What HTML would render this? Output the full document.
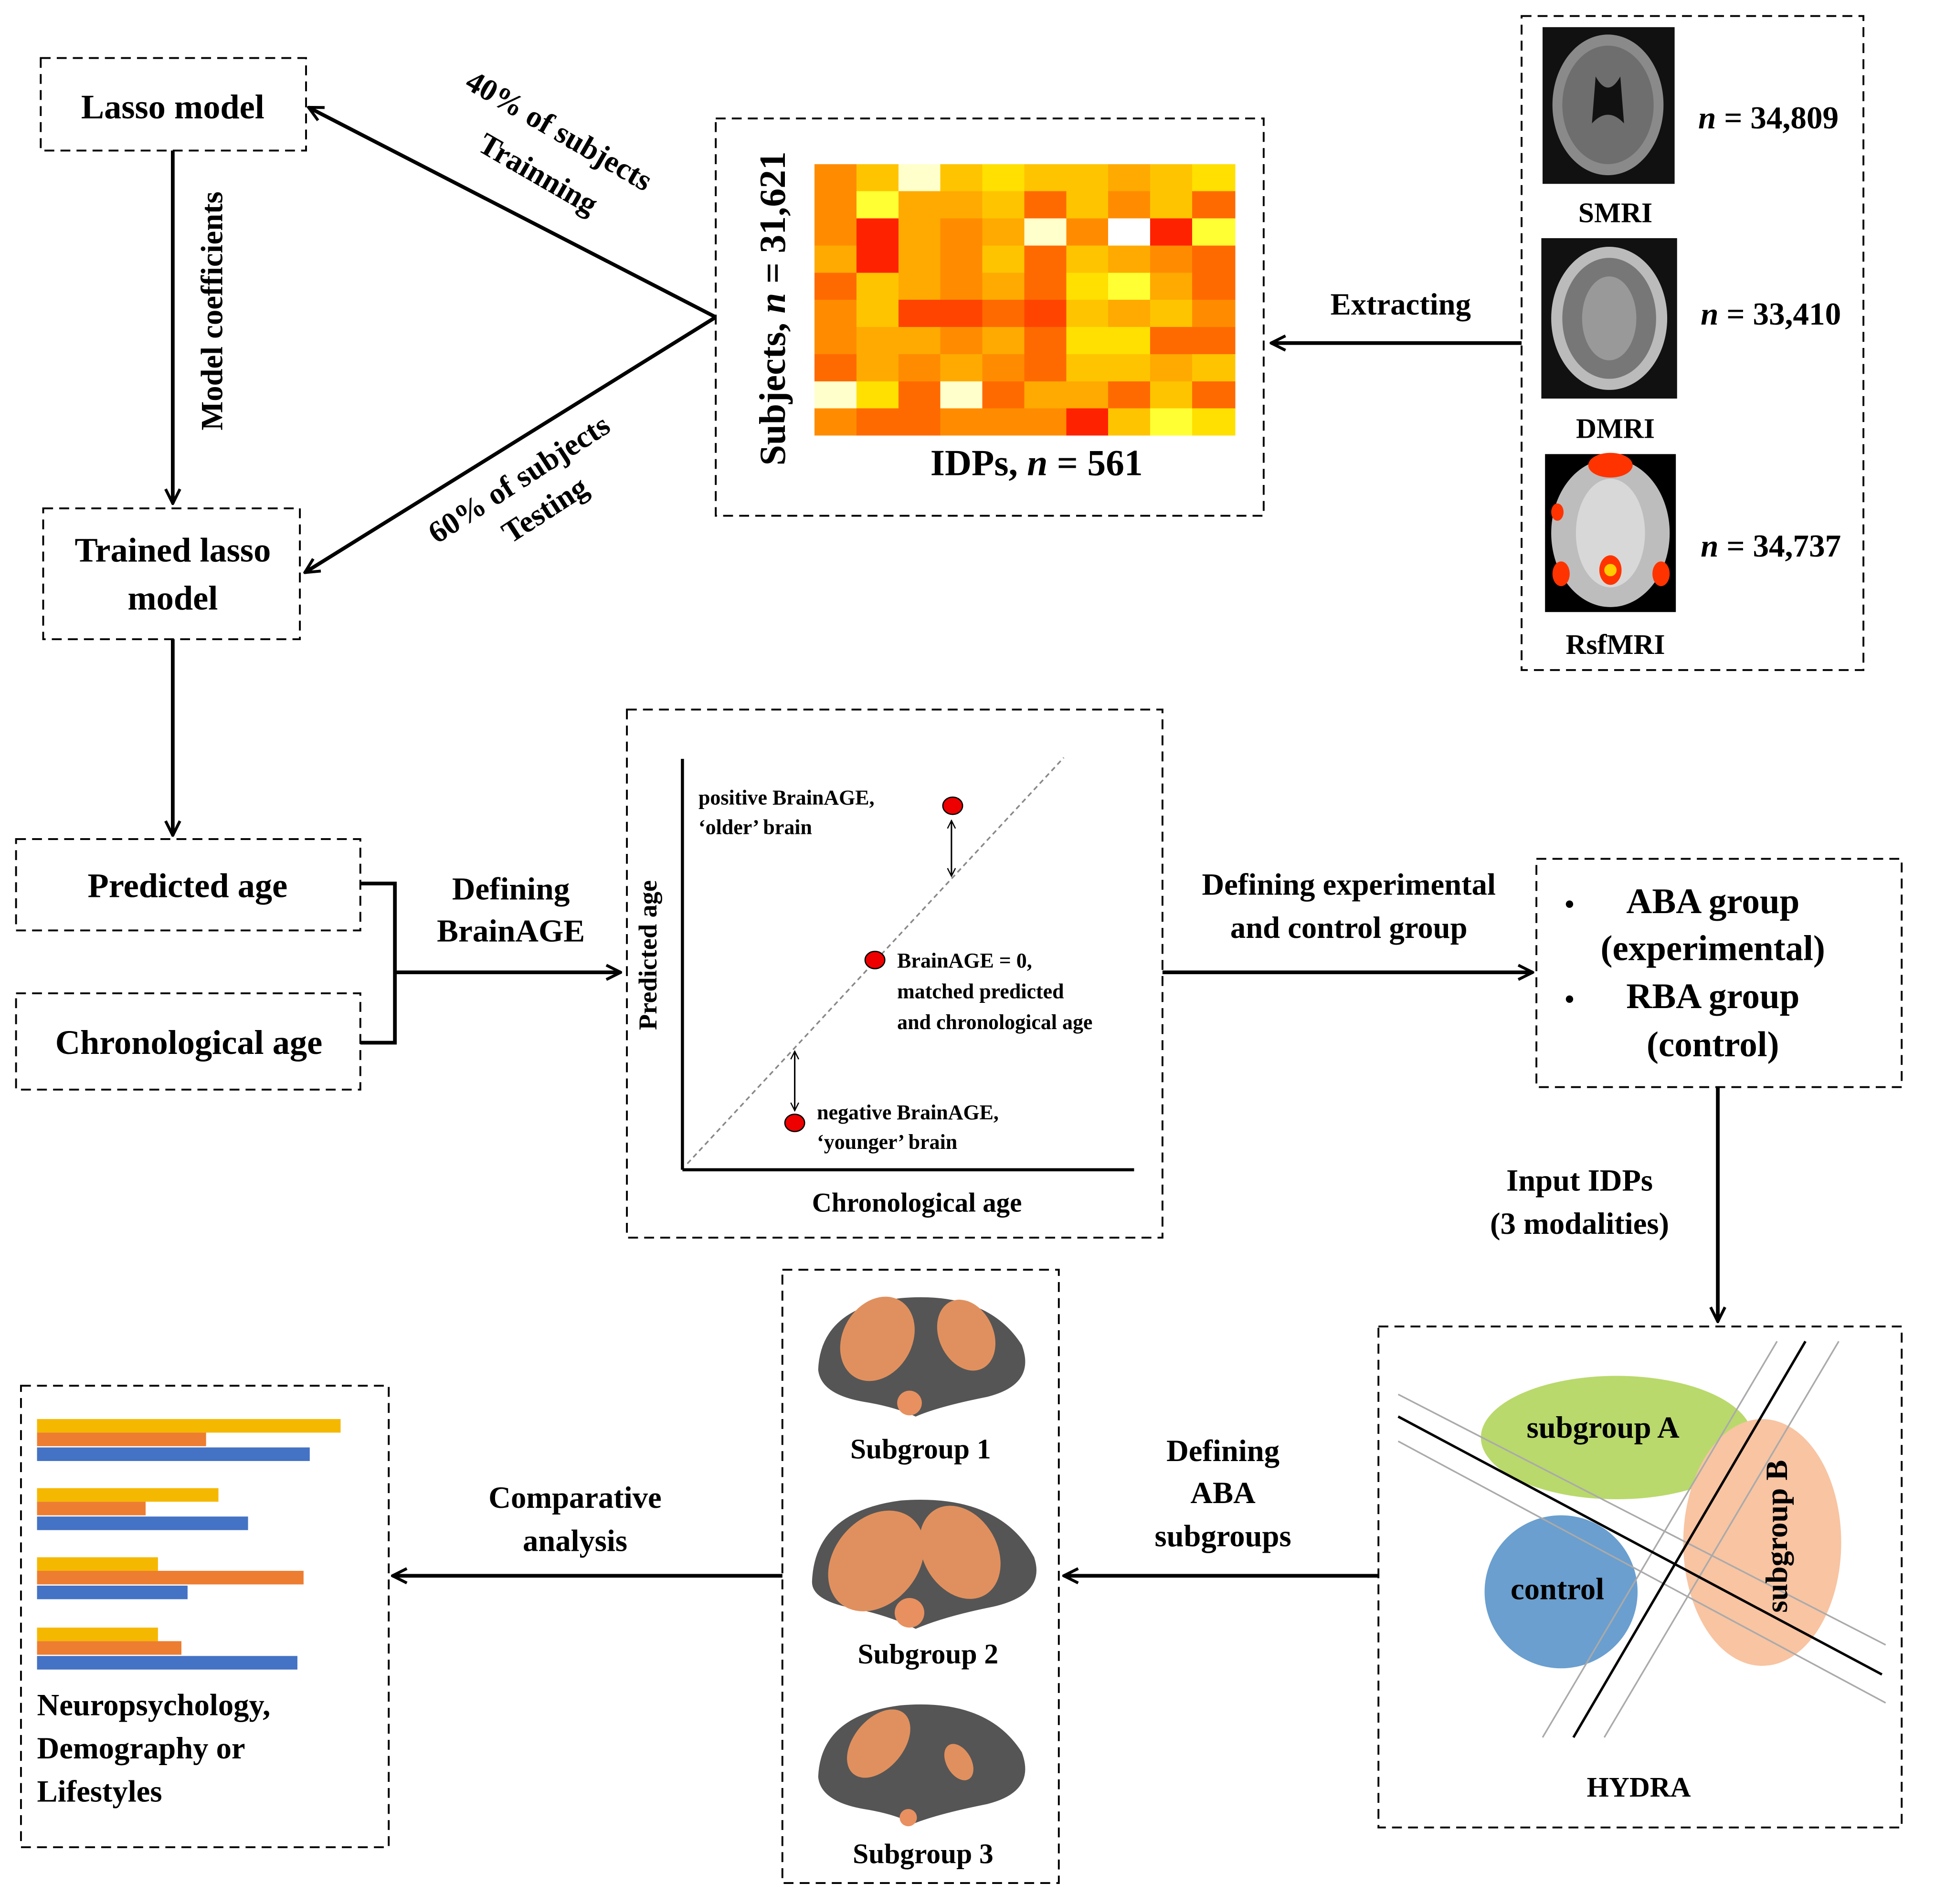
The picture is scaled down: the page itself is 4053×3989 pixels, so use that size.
<!DOCTYPE html>
<html><head><meta charset="utf-8"><style>html,body{margin:0;padding:0;background:#fff}svg{display:block}</style></head>
<body>
<svg xmlns="http://www.w3.org/2000/svg" width="4053" height="3989" viewBox="0 0 1568 1543" preserveAspectRatio="none" font-family="Liberation Serif, serif" font-weight="bold">
<defs>
<marker id="ah" viewBox="0 0 12 12" refX="11" refY="6" markerWidth="14" markerHeight="14" markerUnits="userSpaceOnUse" orient="auto"><path d="M1,1 L11,6 L1,11" fill="none" stroke="#000" stroke-width="2"/></marker>
<marker id="sa" viewBox="0 0 10 10" refX="9" refY="5" markerWidth="8" markerHeight="8" markerUnits="userSpaceOnUse" orient="auto-start-reverse"><path d="M1,1 L9,5 L1,9" fill="none" stroke="#000" stroke-width="1.2"/></marker>
</defs>
<rect width="1568" height="1543" fill="#fff"/>
<g fill="none" stroke="#000" stroke-width="1.5" stroke-dasharray="8,5">
<rect x="33" y="47" width="215" height="75"/>
<rect x="35" y="412" width="208" height="106"/>
<rect x="13" y="680" width="279" height="74"/>
<rect x="13" y="805" width="279" height="78"/>
<rect x="508" y="575" width="434" height="428"/>
<rect x="1245" y="696" width="296" height="185"/>
<rect x="1117" y="1075" width="424" height="406"/>
<rect x="634" y="1029" width="224" height="497"/>
<rect x="17" y="1123" width="298" height="374"/>
<rect x="580" y="96" width="444" height="322"/>
<rect x="1233" y="13" width="277" height="530"/>
</g>
<g stroke="#000" stroke-width="3" fill="none">
<line x1="140" y1="122" x2="140" y2="408" marker-end="url(#ah)"/>
<line x1="140" y1="518" x2="140" y2="677" marker-end="url(#ah)"/>
<polyline points="292,716 320,716 320,845 292,845"/>
<line x1="320" y1="788" x2="503" y2="788" marker-end="url(#ah)"/>
<line x1="942" y1="788" x2="1242" y2="788" marker-end="url(#ah)"/>
<line x1="1392" y1="881" x2="1392" y2="1071" marker-end="url(#ah)"/>
<line x1="1117" y1="1277" x2="862" y2="1277" marker-end="url(#ah)"/>
<line x1="634" y1="1277" x2="318" y2="1277" marker-end="url(#ah)"/>
<line x1="580" y1="257" x2="250" y2="87" marker-end="url(#ah)"/>
<line x1="580" y1="257" x2="247" y2="464" marker-end="url(#ah)"/>
<line x1="1233" y1="278" x2="1030" y2="278" marker-end="url(#ah)"/>
</g>
<g font-size="28" text-anchor="middle">
<text x="140" y="96">Lasso model</text>
<text x="140" y="455">Trained lasso</text>
<text x="140" y="494">model</text>
<text x="152" y="727">Predicted age</text>
<text x="153" y="854">Chronological age</text>
<text font-size="25" x="190" y="262" transform="rotate(-90 180 262)">Model coefficients</text>
<text font-size="26" x="414" y="729">Defining</text>
<text font-size="26" x="414" y="763">BrainAGE</text>
<text font-size="25" x="1093" y="725">Defining experimental</text>
<text font-size="25" x="1093" y="760">and control group</text>
<text font-size="25" x="1280" y="965">Input IDPs</text>
<text font-size="25" x="1280" y="1000">(3 modalities)</text>
<text font-size="25" x="991" y="1184">Defining</text>
<text font-size="25" x="991" y="1218">ABA</text>
<text font-size="25" x="991" y="1253">subgroups</text>
<text font-size="25" x="466" y="1222">Comparative</text>
<text font-size="25" x="466" y="1257">analysis</text>
<text font-size="25" x="1135" y="255">Extracting</text>
<text font-size="23" x="1328" y="1456">HYDRA</text>
<text font-size="23" x="746" y="1182">Subgroup 1</text>
<text font-size="23" x="752" y="1348">Subgroup 2</text>
<text font-size="23" x="748" y="1510">Subgroup 3</text>
<text font-size="22" x="743" y="982">Chronological age</text>
<text font-size="23" x="1309" y="180">SMRI</text>
<text font-size="23" x="1309" y="355">DMRI</text>
<text font-size="23" x="1309" y="530">RsfMRI</text>
<text font-size="30" x="840" y="385">IDPs, <tspan font-style="italic">n</tspan> = 561</text>
</g>
<g font-size="25" text-anchor="middle">
<text transform="translate(445 120) rotate(30)" y="-8">40% of subjects</text>
<text transform="translate(432 148) rotate(30)" y="0">Trainning</text>
<text transform="translate(425 395) rotate(-33)" y="0">60% of subjects</text>
<text transform="translate(446 420) rotate(-33)" y="0">Testing</text>
<text transform="translate(636 250) rotate(-90)" font-size="30" y="0">Subjects, <tspan font-style="italic">n</tspan> = 31,621</text>
<text transform="translate(532 774) rotate(-90)" font-size="21" y="0">Predicted age</text>
</g>
<g font-size="26" text-anchor="middle">
<text x="1433" y="104"><tspan font-style="italic">n</tspan> = 34,809</text>
<text x="1435" y="263"><tspan font-style="italic">n</tspan> = 33,410</text>
<text x="1435" y="451"><tspan font-style="italic">n</tspan> = 34,737</text>
</g>
<g font-size="29">
<text x="1268" y="740" font-size="22">•</text><text x="1388" y="740" text-anchor="middle">ABA group</text>
<text x="1388" y="778" text-anchor="middle">(experimental)</text>
<text x="1268" y="817" font-size="22">•</text><text x="1388" y="817" text-anchor="middle">RBA group</text>
<text x="1388" y="856" text-anchor="middle">(control)</text>
</g>
<g font-size="25">
<text x="30" y="1390">Neuropsychology,</text>
<text x="30" y="1425">Demography or</text>
<text x="30" y="1460">Lifestyles</text>
</g>
<!-- heatmap -->
<g shape-rendering="crispEdges">
<g transform="translate(660 133)"><rect x="0" width="35" height="23" fill="#ff8c00"/><rect x="34" width="35" height="23" fill="#ffc400"/><rect x="68" width="35" height="23" fill="#ffffcc"/><rect x="102" width="35" height="23" fill="#ffc400"/><rect x="136" width="35" height="23" fill="#ffe000"/><rect x="170" width="35" height="23" fill="#ffc400"/><rect x="204" width="35" height="23" fill="#ffc400"/><rect x="238" width="35" height="23" fill="#ffaa00"/><rect x="272" width="35" height="23" fill="#ffc400"/><rect x="306" width="35" height="23" fill="#ffe000"/></g>
<g transform="translate(660 155)"><rect x="0" width="35" height="23" fill="#ff8c00"/><rect x="34" width="35" height="23" fill="#ffff33"/><rect x="68" width="35" height="23" fill="#ffaa00"/><rect x="102" width="35" height="23" fill="#ffaa00"/><rect x="136" width="35" height="23" fill="#ffc400"/><rect x="170" width="35" height="23" fill="#ff6a00"/><rect x="204" width="35" height="23" fill="#ffc400"/><rect x="238" width="35" height="23" fill="#ff8c00"/><rect x="272" width="35" height="23" fill="#ffc400"/><rect x="306" width="35" height="23" fill="#ff6a00"/></g>
<g transform="translate(660 177)"><rect x="0" width="35" height="23" fill="#ff8c00"/><rect x="34" width="35" height="23" fill="#ff2200"/><rect x="68" width="35" height="23" fill="#ffaa00"/><rect x="102" width="35" height="23" fill="#ff8c00"/><rect x="136" width="35" height="23" fill="#ffaa00"/><rect x="170" width="35" height="23" fill="#ffffcc"/><rect x="204" width="35" height="23" fill="#ff8c00"/><rect x="238" width="35" height="23" fill="#ffffff"/><rect x="272" width="35" height="23" fill="#ff2200"/><rect x="306" width="35" height="23" fill="#ffff33"/></g>
<g transform="translate(660 199)"><rect x="0" width="35" height="23" fill="#ffaa00"/><rect x="34" width="35" height="23" fill="#ff2200"/><rect x="68" width="35" height="23" fill="#ffaa00"/><rect x="102" width="35" height="23" fill="#ff8c00"/><rect x="136" width="35" height="23" fill="#ffc400"/><rect x="170" width="35" height="23" fill="#ff6a00"/><rect x="204" width="35" height="23" fill="#ffc400"/><rect x="238" width="35" height="23" fill="#ffaa00"/><rect x="272" width="35" height="23" fill="#ff8c00"/><rect x="306" width="35" height="23" fill="#ff6a00"/></g>
<g transform="translate(660 221)"><rect x="0" width="35" height="23" fill="#ff6a00"/><rect x="34" width="35" height="23" fill="#ffc400"/><rect x="68" width="35" height="23" fill="#ffaa00"/><rect x="102" width="35" height="23" fill="#ff8c00"/><rect x="136" width="35" height="23" fill="#ffaa00"/><rect x="170" width="35" height="23" fill="#ff6a00"/><rect x="204" width="35" height="23" fill="#ffe000"/><rect x="238" width="35" height="23" fill="#ffff33"/><rect x="272" width="35" height="23" fill="#ffaa00"/><rect x="306" width="35" height="23" fill="#ff6a00"/></g>
<g transform="translate(660 243)"><rect x="0" width="35" height="23" fill="#ff8c00"/><rect x="34" width="35" height="23" fill="#ffc400"/><rect x="68" width="35" height="23" fill="#ff4400"/><rect x="102" width="35" height="23" fill="#ff4400"/><rect x="136" width="35" height="23" fill="#ff6a00"/><rect x="170" width="35" height="23" fill="#ff4400"/><rect x="204" width="35" height="23" fill="#ffc400"/><rect x="238" width="35" height="23" fill="#ffaa00"/><rect x="272" width="35" height="23" fill="#ffc400"/><rect x="306" width="35" height="23" fill="#ff8c00"/></g>
<g transform="translate(660 265)"><rect x="0" width="35" height="23" fill="#ff8c00"/><rect x="34" width="35" height="23" fill="#ffaa00"/><rect x="68" width="35" height="23" fill="#ffaa00"/><rect x="102" width="35" height="23" fill="#ff8c00"/><rect x="136" width="35" height="23" fill="#ffaa00"/><rect x="170" width="35" height="23" fill="#ff6a00"/><rect x="204" width="35" height="23" fill="#ffe000"/><rect x="238" width="35" height="23" fill="#ffe000"/><rect x="272" width="35" height="23" fill="#ff6a00"/><rect x="306" width="35" height="23" fill="#ff6a00"/></g>
<g transform="translate(660 287)"><rect x="0" width="35" height="23" fill="#ff6a00"/><rect x="34" width="35" height="23" fill="#ffaa00"/><rect x="68" width="35" height="23" fill="#ff8c00"/><rect x="102" width="35" height="23" fill="#ffaa00"/><rect x="136" width="35" height="23" fill="#ff8c00"/><rect x="170" width="35" height="23" fill="#ff6a00"/><rect x="204" width="35" height="23" fill="#ffc400"/><rect x="238" width="35" height="23" fill="#ffc400"/><rect x="272" width="35" height="23" fill="#ffaa00"/><rect x="306" width="35" height="23" fill="#ffc400"/></g>
<g transform="translate(660 309)"><rect x="0" width="35" height="23" fill="#ffffcc"/><rect x="34" width="35" height="23" fill="#ffe000"/><rect x="68" width="35" height="23" fill="#ff6a00"/><rect x="102" width="35" height="23" fill="#ffffcc"/><rect x="136" width="35" height="23" fill="#ff6a00"/><rect x="170" width="35" height="23" fill="#ffaa00"/><rect x="204" width="35" height="23" fill="#ffaa00"/><rect x="238" width="35" height="23" fill="#ff6a00"/><rect x="272" width="35" height="23" fill="#ffc400"/><rect x="306" width="35" height="23" fill="#ff6a00"/></g>
<g transform="translate(660 331)"><rect x="0" width="35" height="22" fill="#ff8c00"/><rect x="34" width="35" height="22" fill="#ff6a00"/><rect x="68" width="35" height="22" fill="#ff6a00"/><rect x="102" width="35" height="22" fill="#ff8c00"/><rect x="136" width="35" height="22" fill="#ff8c00"/><rect x="170" width="35" height="22" fill="#ff8c00"/><rect x="204" width="35" height="22" fill="#ff2200"/><rect x="238" width="35" height="22" fill="#ffc400"/><rect x="272" width="35" height="22" fill="#ffff33"/><rect x="306" width="35" height="22" fill="#ffe000"/></g>
</g>
<!-- plot -->
<line x1="553" y1="615" x2="553" y2="948" stroke="#000" stroke-width="2.5"/>
<line x1="553" y1="948" x2="919" y2="948" stroke="#000" stroke-width="2.5"/>
<line x1="557" y1="943" x2="862" y2="614" stroke="#888" stroke-width="1.3" stroke-dasharray="4,3"/>
<line x1="771" y1="665" x2="771" y2="710" stroke="#000" stroke-width="1.2" marker-start="url(#sa)" marker-end="url(#sa)"/>
<line x1="644" y1="852" x2="644" y2="900" stroke="#000" stroke-width="1.2" marker-start="url(#sa)" marker-end="url(#sa)"/>
<g fill="#e00" stroke="#000" stroke-width="1"><ellipse cx="772" cy="653" rx="8" ry="7"/><ellipse cx="709" cy="778" rx="8" ry="7"/><ellipse cx="644" cy="910" rx="8" ry="7"/></g>
<g font-size="17">
<text x="566" y="652">positive BrainAGE,</text><text x="566" y="676">‘older’ brain</text>
<text x="727" y="784">BrainAGE = 0,</text><text x="727" y="809">matched predicted</text><text x="727" y="834">and chronological age</text>
<text x="662" y="907">negative BrainAGE,</text><text x="662" y="931">‘younger’ brain</text>
</g>
<!-- MRI images -->
<rect x="1250" y="22" width="107" height="127" fill="#111"/>
<ellipse cx="1303" cy="85" rx="45" ry="57" fill="#8a8a8a"/><ellipse cx="1303" cy="85" rx="37" ry="48" fill="#6e6e6e"/>
<path d="M1293,62 Q1303,80 1313,62 L1316,100 Q1303,86 1290,100Z" fill="#111"/>
<rect x="1249" y="193" width="110" height="130" fill="#111"/>
<ellipse cx="1304" cy="258" rx="47" ry="58" fill="#bbb"/><ellipse cx="1304" cy="258" rx="38" ry="49" fill="#777"/><ellipse cx="1304" cy="258" rx="22" ry="34" fill="#999"/>
<rect x="1252" y="368" width="106" height="128" fill="#000"/>
<ellipse cx="1305" cy="432" rx="48" ry="60" fill="#bdbdbd"/><ellipse cx="1305" cy="432" rx="28" ry="44" fill="#d8d8d8"/>
<ellipse cx="1305" cy="377" rx="18" ry="10" fill="#ff3300"/><ellipse cx="1305" cy="462" rx="9" ry="12" fill="#ff3300"/><circle cx="1305" cy="462" r="5" fill="#ffcc00"/>
<ellipse cx="1265" cy="465" rx="7" ry="10" fill="#ff3300"/><ellipse cx="1346" cy="465" rx="7" ry="10" fill="#ff3300"/><ellipse cx="1262" cy="415" rx="5" ry="7" fill="#ff3300"/>
<!-- brains -->
<g>
<path d="M663,1110 Q665,1060 730,1052 Q800,1046 828,1090 Q840,1122 800,1132 Q760,1140 742,1148 Q725,1140 700,1136 Q665,1130 663,1110Z" fill="#555"/>
<ellipse cx="737" cy="1137" rx="10" ry="10" fill="#e89060"/>
<ellipse cx="711" cy="1085" rx="28" ry="36" fill="#e0905e" transform="rotate(30 711 1085)"/><ellipse cx="783" cy="1082" rx="22" ry="30" fill="#e0905e" transform="rotate(-25 783 1082)"/>
<path d="M658,1282 Q660,1225 730,1216 Q810,1210 838,1262 Q848,1292 805,1302 Q765,1310 742,1320 Q722,1310 695,1304 Q658,1298 658,1282Z" fill="#555"/>
<ellipse cx="737" cy="1307" rx="12" ry="12" fill="#e89060"/>
<ellipse cx="710" cy="1265" rx="34" ry="45" fill="#e0905e" transform="rotate(40 710 1265)"/><ellipse cx="778" cy="1258" rx="30" ry="40" fill="#e0905e" transform="rotate(-30 778 1258)"/>
<path d="M663,1440 Q665,1390 730,1382 Q800,1376 828,1420 Q840,1452 800,1462 Q760,1470 740,1478 Q725,1470 700,1466 Q665,1460 663,1440Z" fill="#555"/>
<ellipse cx="736" cy="1473" rx="7" ry="7" fill="#e89060"/>
<ellipse cx="712" cy="1413" rx="20" ry="32" fill="#e0905e" transform="rotate(40 712 1413)"/><ellipse cx="777" cy="1428" rx="10" ry="16" fill="#e0905e" transform="rotate(-30 777 1428)"/>
</g>
<!-- bars -->
<g>
<rect x="30" y="1150" width="246" height="11" fill="#f5b800"/><rect x="30" y="1161" width="137" height="11" fill="#ed7d31"/><rect x="30" y="1173" width="221" height="11" fill="#4472c4"/>
<rect x="30" y="1206" width="147" height="11" fill="#f5b800"/><rect x="30" y="1217" width="88" height="11" fill="#ed7d31"/><rect x="30" y="1229" width="171" height="11" fill="#4472c4"/>
<rect x="30" y="1262" width="98" height="11" fill="#f5b800"/><rect x="30" y="1273" width="216" height="11" fill="#ed7d31"/><rect x="30" y="1285" width="122" height="11" fill="#4472c4"/>
<rect x="30" y="1319" width="98" height="11" fill="#f5b800"/><rect x="30" y="1330" width="117" height="11" fill="#ed7d31"/><rect x="30" y="1342" width="211" height="11" fill="#4472c4"/>
</g>
<!-- HYDRA -->
<ellipse cx="1310" cy="1165" rx="110" ry="50" fill="#b9d96c"/>
<ellipse cx="1428" cy="1250" rx="64" ry="100" fill="#f8c4a2"/>
<circle cx="1265" cy="1290" r="62" fill="#6a9fcf"/>
<g stroke="#aaa" stroke-width="1.3">
<line x1="1133" y1="1130" x2="1528" y2="1333"/><line x1="1133" y1="1168" x2="1528" y2="1380"/>
<line x1="1440" y1="1087" x2="1250" y2="1408"/><line x1="1490" y1="1087" x2="1300" y2="1408"/>
</g>
<g stroke="#000" stroke-width="2">
<line x1="1133" y1="1148" x2="1525" y2="1357"/><line x1="1463" y1="1087" x2="1275" y2="1408"/>
</g>
<text x="1299" y="1165" font-size="25" text-anchor="middle">subgroup A</text>
<text x="1262" y="1296" font-size="25" text-anchor="middle">control</text>
<text transform="translate(1448 1245) rotate(-90)" font-size="25" text-anchor="middle">subgroup B</text>
</svg>
</body></html>
